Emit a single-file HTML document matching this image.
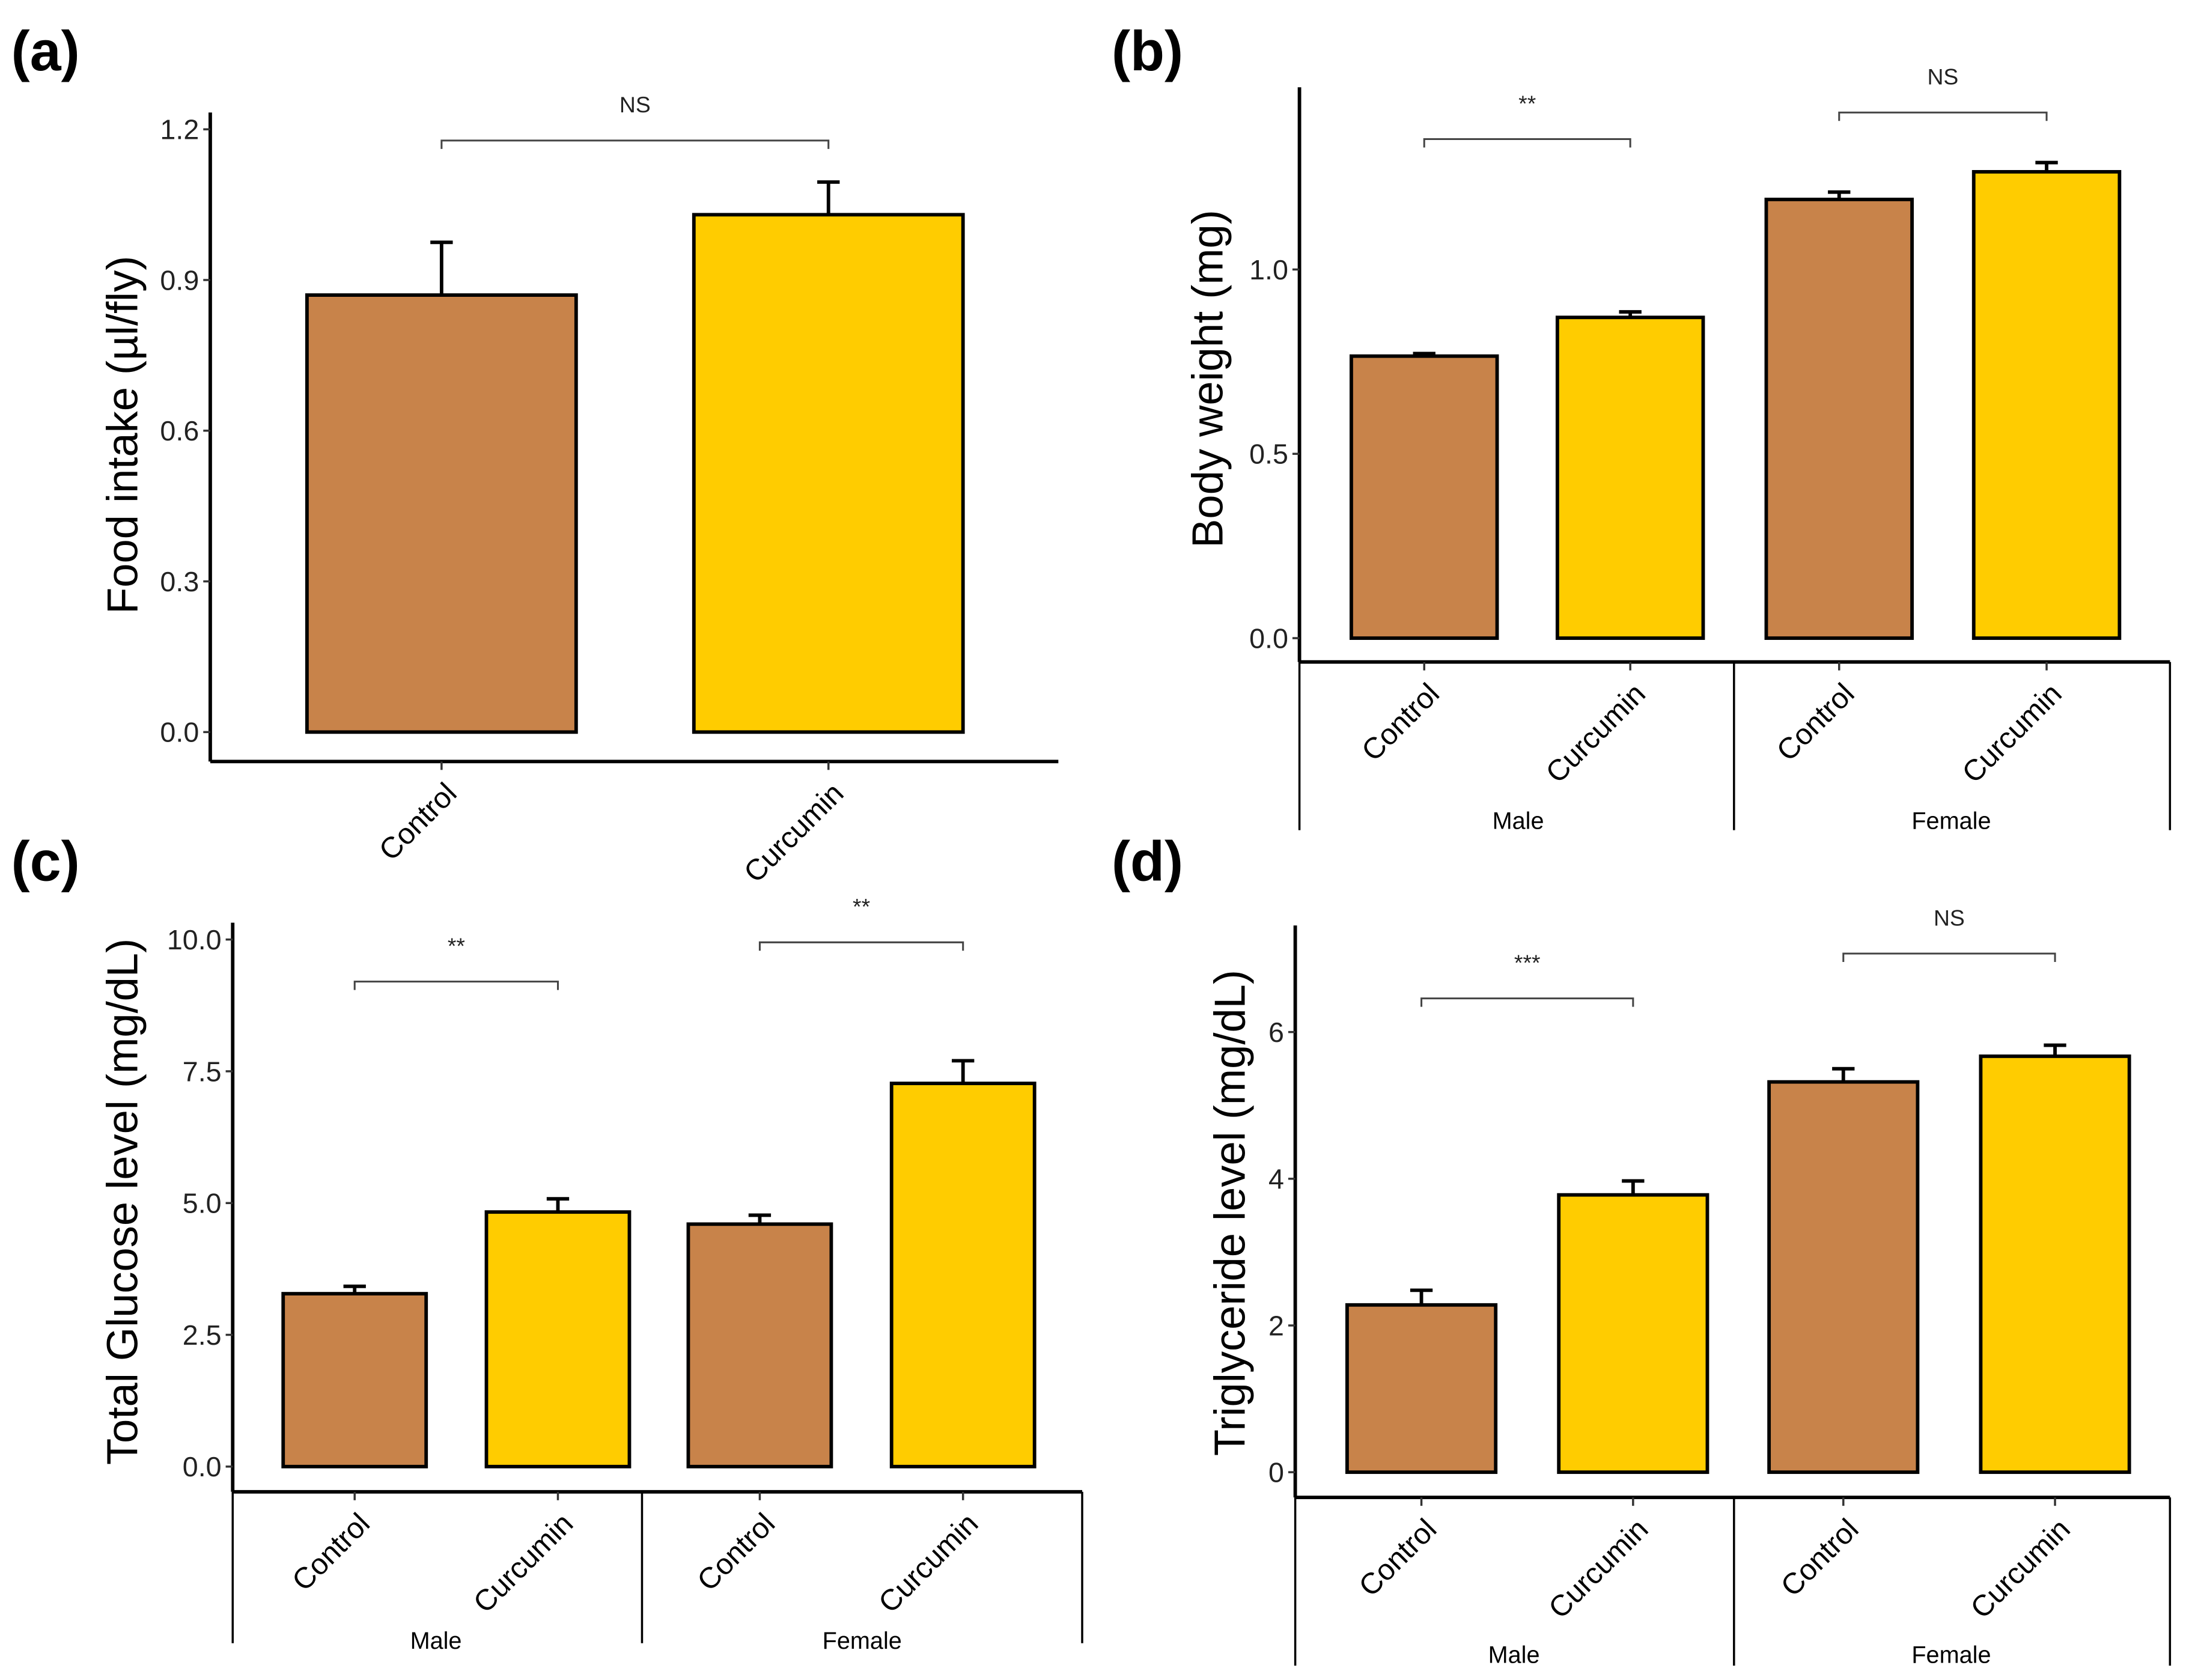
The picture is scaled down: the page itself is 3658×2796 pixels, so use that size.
<!DOCTYPE html>
<html><head><meta charset="utf-8"><style>
html,body{margin:0;padding:0;background:#fff}
svg{display:block}
text{font-family:"Liberation Sans",sans-serif;fill:#000}
.tk{font-family:"Liberation Sans Narrow","Liberation Sans",sans-serif;font-size:20px;fill:#222}
.sm{font-family:"Liberation Sans Narrow","Liberation Sans",sans-serif;font-size:16px;fill:#222}
</style></head><body>
<svg id="fig" width="3658" height="2796" viewBox="0 0 1568 1198" xmlns="http://www.w3.org/2000/svg"></svg>
<script>
// Panel (a)
const aCats = ["Control","Curcumin"];
const aVals = [0.87, 1.03];
const aErr = [0.975, 1.095];
const aTicks = [0, 0.3, 0.6, 0.9, 1.2];
const aTickLabels = ["0.0","0.3","0.6","0.9","1.2"];
// Panel (b)
const bCats = ["Control","Curcumin","Control","Curcumin"];
const bVals = [0.765, 0.87, 1.19, 1.265];
const bErr = [0.772, 0.885, 1.21, 1.29];
const bTicks = [0, 0.5, 1.0];
const bTickLabels = ["0.0","0.5","1.0"];
// Panel (c)
const cCats = ["Control","Curcumin","Control","Curcumin"];
const cVals = [3.28, 4.83, 4.6, 7.27];
const cErr = [3.42, 5.08, 4.77, 7.7];
const cTicks = [0, 2.5, 5, 7.5, 10];
const cTickLabels = ["0.0","2.5","5.0","7.5","10.0"];
// Panel (d)
const dCats = ["Control","Curcumin","Control","Curcumin"];
const dVals = [2.28, 3.78, 5.32, 5.67];
const dErr = [2.48, 3.97, 5.5, 5.82];
const dTicks = [0, 2, 4, 6];
const dTickLabels = ["0","2","4","6"];
const groups = ["Male","Female"];

const NS="http://www.w3.org/2000/svg";
const svg=document.getElementById('fig');
function mk(tag,attrs,parent,txt){const e=document.createElementNS(NS,tag);for(const k in attrs)e.setAttribute(k,attrs[k]);if(txt!==undefined)e.textContent=txt;(parent||svg).appendChild(e);return e;}
const COLORS=["#C8834A","#FFCC00"];

function panel(cfg){
  const g=mk('g',{});
  
  
  const y=v=>cfg.y0+(v-cfg.v0)*(cfg.y1-cfg.y0)/(cfg.v1-cfg.v0);
  const pl=mk('text',{x:cfg.lx,y:cfg.ly,'font-size':40,'font-weight':'bold'},g,cfg.label);
  
  
  const ya=mk('line',{x1:cfg.ax,y1:cfg.atop,x2:cfg.ax,y2:cfg.abot,stroke:'#000','stroke-width':2.5},g);
  
  
  const xa=mk('line',{x1:cfg.ax,y1:cfg.abot,x2:cfg.aright,y2:cfg.abot,stroke:'#000','stroke-width':2.5},g);
  
  
  cfg.ticks.forEach((t,i)=>{
    mk('line',{x1:cfg.ax-5,y1:y(t),x2:cfg.ax,y2:y(t),stroke:'#333','stroke-width':1.5},g);
    const tl=mk('text',{x:cfg.ax-8,y:y(t)+7,'text-anchor':'end',class:'tk'},g,cfg.tickLabels[i]);
    
    
  });
  const yt=mk('text',{x:0,y:0,'font-size':31,'text-anchor':'middle',transform:`translate(${cfg.tx},${cfg.ty}) rotate(-90)`},g,cfg.title);
  
  
  const w=cfg.bw;
  cfg.cats.forEach((c,i)=>{
    const cx=cfg.cx[i];
    const bar=mk('rect',{x:cx-w/2,y:y(cfg.vals[i]),width:w,height:y(0)-y(cfg.vals[i]),fill:COLORS[i%2],stroke:'#000','stroke-width':2.5},g);
    
    
    const eb=mk('path',{d:`M${cx},${y(cfg.vals[i])}V${y(cfg.err[i])}M${cx-8},${y(cfg.err[i])}H${cx+8}`,stroke:'#000','stroke-width':2.5,fill:'none'},g);
    
    
    mk('line',{x1:cx,y1:cfg.abot,x2:cx,y2:cfg.abot+6,stroke:'#333','stroke-width':1.5},g);
    const xl=mk('text',{x:0,y:0,'font-size':21,'text-anchor':'end',transform:`translate(${cx+12},${cfg.abot+24}) rotate(-45)`},g,c);
    
    
  });
  cfg.brackets.forEach(b=>{
    const x1=cfg.cx[b.i],x2=cfg.cx[b.j];
    const br=mk('path',{d:`M${x1},${b.y+6}V${b.y}H${x2}V${b.y+6}`,stroke:'#444','stroke-width':1.3,fill:'none'},g);
    
    
    const st=mk('text',{x:(x1+x2)/2,y:b.y-20,'text-anchor':'middle',class:'sm'},g,b.t);
    
    
  });
  if(cfg.seps){
    cfg.seps.forEach(sx=>{
      const s=mk('line',{x1:sx,y1:cfg.abot,x2:sx,y2:cfg.sepBot,stroke:'#000','stroke-width':1.5},g);
      
      
    });
    groups.forEach((gn,k)=>{
      const gl=mk('text',{x:cfg.gx[k],y:cfg.gy,'text-anchor':'middle','font-size':17},g,gn);
      
      
    });
  }
}

panel({name:'panel-a-food-intake',label:'(a)',lx:8,ly:50,ax:150,atop:80,abot:543,aright:755,
  v0:0,v1:1.2,y0:522,y1:92,ticks:aTicks,tickLabels:aTickLabels,title:'Food intake (µl/fly)',tx:98,ty:310,
  cats:aCats,vals:aVals,err:aErr,cx:[315,591],bw:192,brackets:[{i:0,j:1,y:100,t:'NS'}]});
panel({name:'panel-b-body-weight',label:'(b)',lx:793,ly:50,ax:927,atop:62,abot:472,aright:1548,
  v0:0,v1:1.0,y0:455,y1:192,ticks:bTicks,tickLabels:bTickLabels,title:'Body weight (mg)',tx:872,ty:270,
  cats:bCats,vals:bVals,err:bErr,cx:[1016,1163,1312,1460],bw:104,
  brackets:[{i:0,j:1,y:99,t:'**'},{i:2,j:3,y:80,t:'NS'}],
  seps:[927,1237,1548],sepBot:592,gx:[1083,1392],gy:591});
panel({name:'panel-c-glucose',label:'(c)',lx:8,ly:628,ax:166,atop:658,abot:1064,aright:772,
  v0:0,v1:10,y0:1046,y1:670,ticks:cTicks,tickLabels:cTickLabels,title:'Total Glucose level (mg/dL)',tx:98,ty:857,
  cats:cCats,vals:cVals,err:cErr,cx:[253,398,542,687],bw:102,
  brackets:[{i:0,j:1,y:700,t:'**'},{i:2,j:3,y:672,t:'**'}],
  seps:[166,458,772],sepBot:1172,gx:[311,615],gy:1176});
panel({name:'panel-d-triglyceride',label:'(d)',lx:793,ly:628,ax:924,atop:660,abot:1068,aright:1548,
  v0:0,v1:6,y0:1050,y1:736,ticks:dTicks,tickLabels:dTickLabels,title:'Triglyceride level (mg/dL)',tx:888,ty:865,
  cats:dCats,vals:dVals,err:dErr,cx:[1014,1165,1315,1466],bw:106,
  brackets:[{i:0,j:1,y:712,t:'***'},{i:2,j:3,y:680,t:'NS'}],
  seps:[924,1237,1548],sepBot:1188,gx:[1080,1392],gy:1186});
</script>
</body></html>
